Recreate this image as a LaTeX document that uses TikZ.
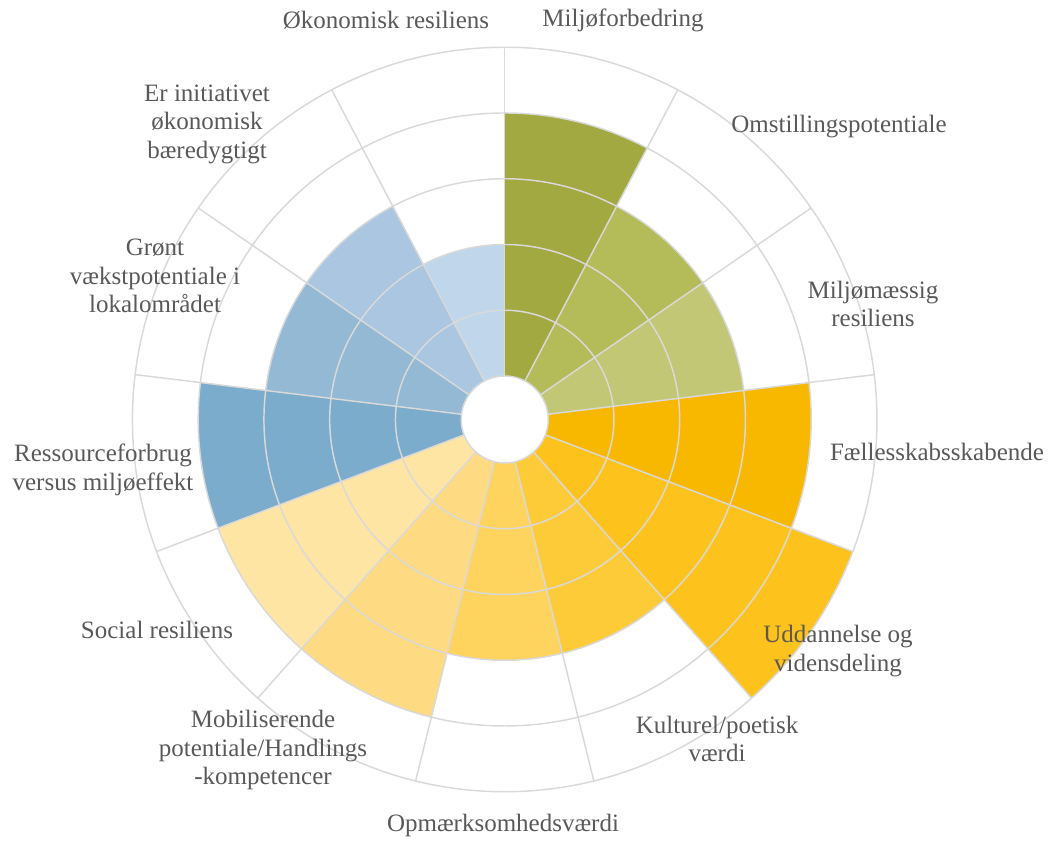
\documentclass[tikz,border=0pt]{standalone}
\usepackage{fontspec}
\setmainfont{Liberation Serif}
\definecolor{cA}{HTML}{A2A940}
\definecolor{cB}{HTML}{B3BC59}
\definecolor{cC}{HTML}{C1C774}
\definecolor{cD}{HTML}{F9B800}
\definecolor{cE}{HTML}{FDC21C}
\definecolor{cF}{HTML}{FECB38}
\definecolor{cG}{HTML}{FED35E}
\definecolor{cH}{HTML}{FEDB82}
\definecolor{cI}{HTML}{FFE5A4}
\definecolor{cJ}{HTML}{7BACCB}
\definecolor{cK}{HTML}{93B9D4}
\definecolor{cL}{HTML}{AAC6E0}
\definecolor{cM}{HTML}{C0D6EA}
\definecolor{gridgray}{HTML}{D9D9D9}
\definecolor{labelgray}{HTML}{595959}
\begin{document}
\begin{tikzpicture}[x=0.75pt,y=0.75pt,
  gridline/.style={draw=gridgray, line width=1.1pt},
  lab/.style={text=labelgray, font=\fontsize{18.75}{21.4}\selectfont, align=center, inner sep=0pt}]
\useasboundingbox (0,0) rectangle (1057,841);
\coordinate (c) at (504.7,421.5);
\begin{scope}[shift={(c)}]
\foreach \i/\v/\col in {0/4/cA,1/3/cB,2/3/cC,3/4/cD,4/5/cE,5/3/cF,6/3/cG,7/4/cH,8/4/cI,9/4/cJ,10/3/cK,11/3/cL,12/2/cM} {
  \pgfmathsetmacro\aa{90-\i*360/13}
  \pgfmathsetmacro\ab{90-(\i+1)*360/13}
  \pgfmathsetmacro\R{43.5+65.75*\v}
  \fill[\col] (0,0) -- (\aa:\R) arc[start angle=\aa, end angle=\ab, radius=\R] -- cycle;
}
\foreach \k in {1,...,5} {
  \pgfmathsetmacro\R{43.5+65.75*\k}
  \draw[gridline] (0,0) circle[radius=\R];
}
\foreach \i in {0,...,12} {
  \pgfmathsetmacro\aa{90-\i*360/13}
  \draw[gridline] (\aa:43.5) -- (\aa:372.25);
}
\filldraw[gridline, fill=white] (0,0) circle[radius=43.5];
\end{scope}
\node[lab] (l1) at (386,821) {Økonomisk resiliens};
\node[lab] (l2) at (623,821) {Miljøforbedring};
\node[lab] (l3) at (839,714) {Omstillingspotentiale};
\node[lab] (l4) at (873,537) {Miljømæssig\\resiliens};
\node[lab] (l5) at (937,389) {Fællesskabsskabende};
\node[lab] (l6) at (838,190) {Uddannelse og\\vidensdeling};
\node[lab] (l7) at (717,102) {Kulturel/poetisk\\værdi};
\node[lab] (l8) at (503,16) {Opmærksomhedsværdi};
\node[lab] (l9) at (263,91) {Mobiliserende\\potentiale/Handlings\\-kompetencer};
\node[lab] (l10) at (157,211) {Social resiliens};
\node[lab] (l11) at (103,371) {Ressourceforbrug\\versus miljøeffekt};
\node[lab] (l12) at (155,565) {Grønt\\vækstpotentiale i\\lokalområdet};
\node[lab] (l13) at (207,717) {Er initiativet\\økonomisk\\bæredygtigt};
\end{tikzpicture}
\end{document}
